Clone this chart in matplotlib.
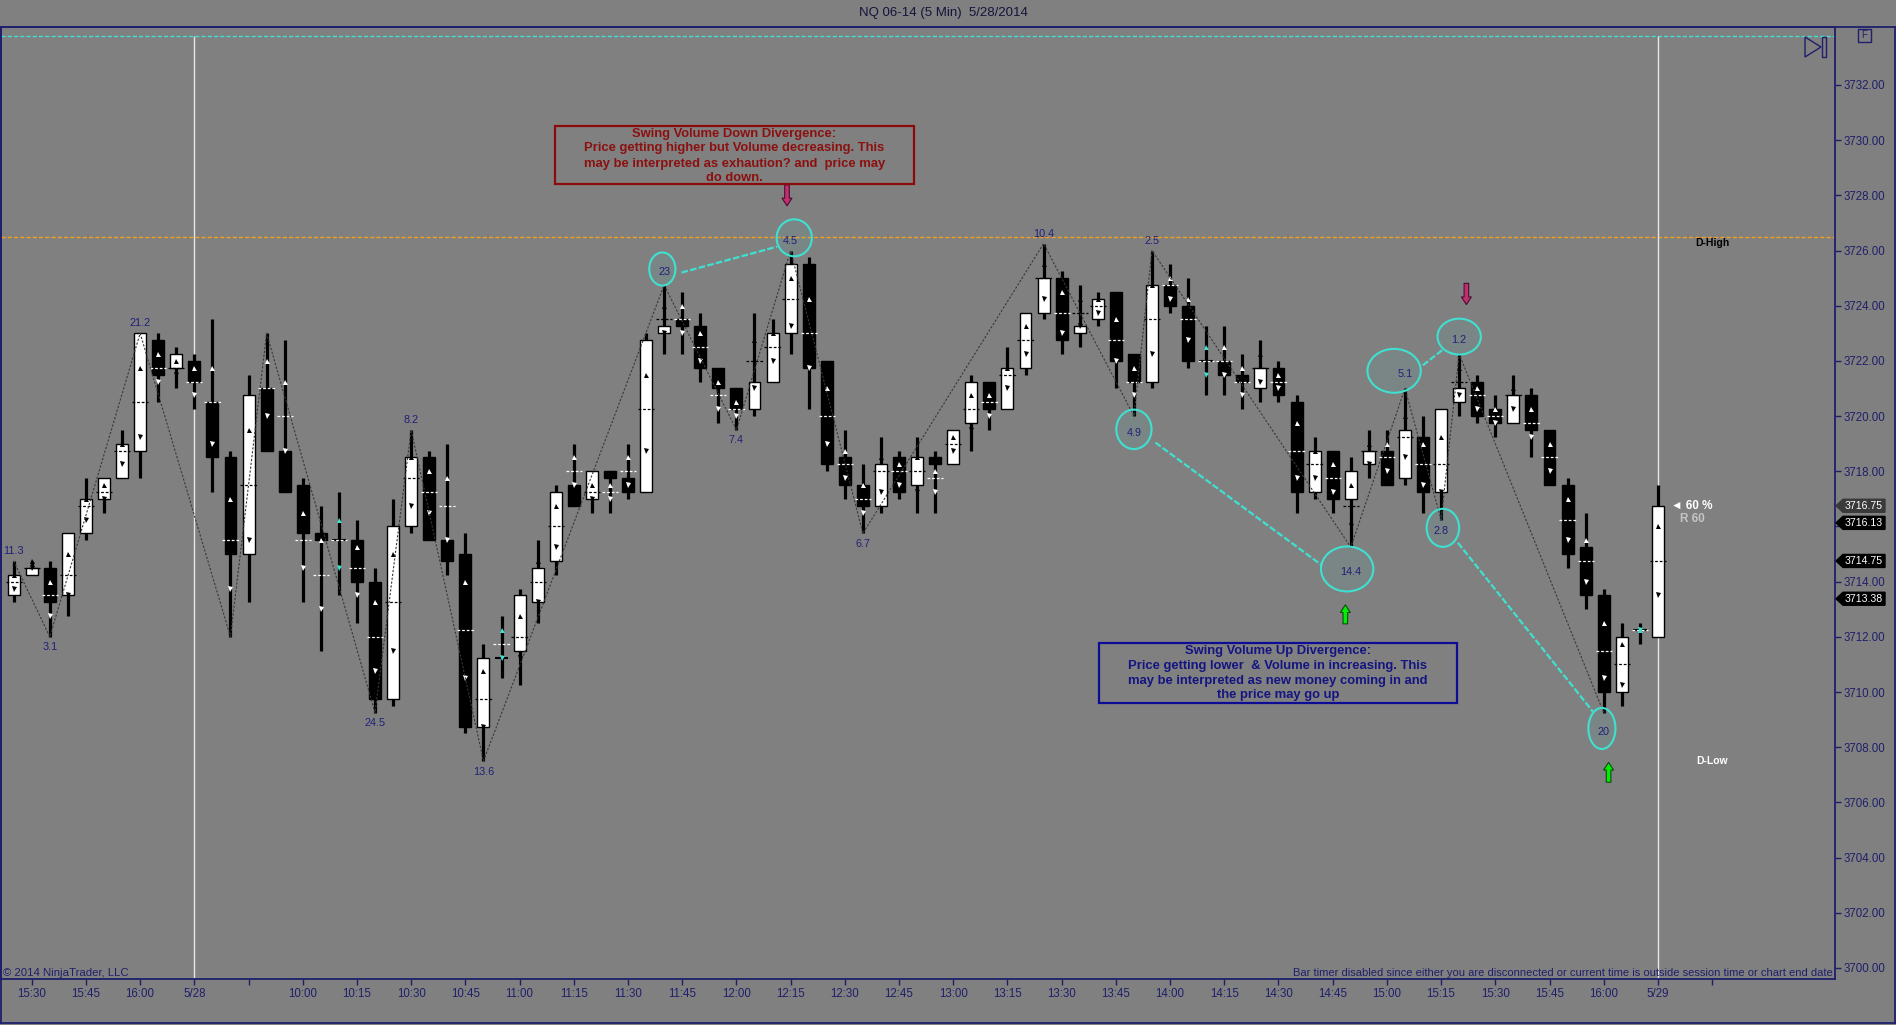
import numpy as np
import matplotlib.pyplot as plt
from matplotlib import font_manager as fm
from matplotlib.patches import Rectangle, Ellipse, Polygon
from matplotlib.lines import Line2D
import matplotlib.transforms as mtrans

names = {f.name for f in fm.fontManager.ttflist}
NARROW = 'Liberation Sans Narrow' if 'Liberation Sans Narrow' in names else 'Liberation Sans'
plt.rcParams['font.family'] = ['Liberation Sans', 'DejaVu Sans']

W, H = 1896, 1025
BG = '#808080'
NAVY = '#1f1f6b'
CYAN = '#40e0d0'

# ---- 5 min bars (index 0 = 15:25 of 5/27) ----
opens = [3713.5, 3714.25, 3714.5, 3713.5, 3715.75, 3717.0, 3717.75, 3718.75, 3722.75, 3721.75,
         3722.0, 3720.5, 3718.5, 3715.0, 3721.0, 3718.75, 3717.5, 3715.75, 3715.5, 3715.5,
         3714.0, 3709.75, 3716.0, 3718.5, 3715.5, 3715.0, 3708.75, 3711.25, 3711.5, 3713.25,
         3714.75, 3717.5, 3717.0, 3718.0, 3717.75, 3717.25, 3723.0, 3723.5, 3723.25, 3721.75,
         3721.0, 3720.25, 3721.25, 3723.0, 3725.5, 3722.0, 3718.5, 3717.5, 3716.75, 3718.5,
         3717.5, 3718.5, 3718.25, 3719.75, 3721.25, 3720.25, 3721.75, 3723.75, 3725.0, 3723.0,
         3723.5, 3724.5, 3722.25, 3721.25, 3724.75, 3724.0, 3722.0, 3722.0, 3721.5, 3721.0,
         3721.75, 3720.5, 3717.25, 3718.75, 3717.0, 3718.25, 3718.75, 3717.75, 3719.25, 3717.25,
         3720.5, 3721.25, 3720.25, 3719.75, 3720.75, 3719.5, 3717.5, 3715.25, 3713.5, 3710.0,
         3712.25, 3712.0]
highs = [3714.75, 3714.75, 3714.75, 3715.75, 3717.75, 3717.75, 3719.5, 3723.0, 3723.0, 3722.5,
         3722.25, 3723.5, 3718.75, 3721.5, 3723.0, 3722.75, 3717.75, 3716.75, 3717.25, 3716.25,
         3714.5, 3717.0, 3719.5, 3718.75, 3719.0, 3715.75, 3711.75, 3712.75, 3713.75, 3715.5,
         3717.5, 3719.0, 3718.0, 3718.0, 3719.0, 3723.0, 3724.75, 3724.5, 3723.75, 3721.75,
         3721.0, 3723.75, 3723.5, 3726.0, 3725.75, 3722.0, 3719.5, 3718.25, 3719.25, 3718.75,
         3719.25, 3718.75, 3719.5, 3721.5, 3721.25, 3722.5, 3723.75, 3726.25, 3725.25, 3724.75,
         3724.5, 3724.5, 3722.25, 3726.0, 3725.5, 3725.0, 3723.25, 3723.25, 3722.25, 3722.75,
         3722.0, 3720.75, 3719.25, 3718.75, 3718.5, 3719.5, 3719.5, 3721.0, 3720.0, 3720.25,
         3722.25, 3721.5, 3720.75, 3721.5, 3721.0, 3719.5, 3717.75, 3716.5, 3713.75, 3712.5,
         3712.5, 3717.5]
lows = [3713.25, 3714.25, 3712.0, 3712.75, 3715.5, 3716.5, 3717.75, 3717.75, 3720.5, 3721.0,
        3720.25, 3717.25, 3712.0, 3713.25, 3718.75, 3717.25, 3713.25, 3711.5, 3713.5, 3712.5,
        3709.25, 3709.5, 3715.75, 3715.5, 3714.25, 3708.5, 3707.5, 3710.5, 3710.25, 3712.5,
        3714.25, 3716.75, 3716.5, 3716.5, 3717.0, 3717.25, 3722.25, 3722.25, 3721.25, 3719.75,
        3719.5, 3720.0, 3721.25, 3722.25, 3720.25, 3718.0, 3717.0, 3715.75, 3716.5, 3717.0,
        3716.5, 3716.5, 3718.25, 3718.75, 3719.5, 3720.25, 3721.5, 3723.5, 3722.25, 3722.5,
        3723.25, 3721.0, 3720.0, 3721.0, 3723.75, 3721.75, 3720.75, 3720.75, 3720.25, 3720.5,
        3720.5, 3716.5, 3717.0, 3716.5, 3715.25, 3717.75, 3717.5, 3717.5, 3716.5, 3716.25,
        3720.0, 3719.75, 3719.25, 3719.75, 3718.5, 3717.5, 3714.5, 3713.0, 3709.25, 3709.5,
        3711.75, 3712.0]
closes = [3714.25, 3714.5, 3713.25, 3715.75, 3717.0, 3717.75, 3719.0, 3723.0, 3721.5, 3722.25,
          3721.25, 3718.5, 3715.0, 3720.75, 3718.75, 3717.25, 3715.75, 3715.5, 3715.5, 3714.0,
          3709.75, 3716.0, 3718.5, 3715.5, 3714.75, 3708.75, 3711.25, 3711.25, 3713.5, 3714.5,
          3717.25, 3716.75, 3718.0, 3717.75, 3717.25, 3722.75, 3723.25, 3723.25, 3721.75, 3721.0,
          3720.25, 3721.25, 3723.0, 3725.5, 3721.75, 3718.25, 3717.5, 3716.75, 3718.25, 3717.25,
          3718.5, 3718.25, 3719.5, 3721.25, 3720.25, 3721.75, 3723.75, 3725.0, 3722.75, 3723.25,
          3724.25, 3722.0, 3721.25, 3724.75, 3724.0, 3722.0, 3722.0, 3721.5, 3721.25, 3721.75,
          3720.75, 3717.25, 3718.75, 3717.0, 3718.0, 3718.75, 3717.5, 3719.5, 3717.25, 3720.25,
          3721.0, 3720.0, 3719.75, 3720.75, 3719.5, 3717.5, 3715.0, 3713.5, 3710.0, 3712.0,
          3712.25, 3716.75]

# per-bar volume markers: value area high / point of control / value area low
va_high = [3714.25, 3714.75, 3714.0, 3715.0, 3717.0, 3717.5, 3719.0, 3721.75, 3722.25, 3722.0,
           3721.75, 3721.75, 3717.0, 3719.5, 3722.0, 3721.25, 3716.5, 3715.5, 3716.25, 3715.25,
           3713.25, 3715.0, 3718.5, 3718.0, 3717.75, 3714.0, 3710.75, 3712.25, 3712.75, 3714.75,
           3716.75, 3718.5, 3717.5, 3717.5, 3718.5, 3721.5, 3724.0, 3724.0, 3723.0, 3721.25,
           3720.5, 3722.75, 3723.0, 3725.0, 3724.25, 3721.0, 3718.75, 3717.5, 3718.5, 3718.25,
           3718.5, 3718.0, 3719.25, 3720.75, 3720.75, 3721.75, 3723.25, 3725.5, 3724.5, 3724.25,
           3724.25, 3723.5, 3721.75, 3724.75, 3725.0, 3724.25, 3722.5, 3722.5, 3721.75, 3722.25,
           3721.5, 3719.75, 3718.75, 3718.25, 3717.5, 3719.0, 3719.0, 3720.0, 3719.0, 3719.25,
           3721.75, 3721.0, 3720.25, 3721.0, 3720.25, 3719.0, 3717.0, 3715.5, 3712.5, 3711.75,
           3712.25, 3716.0]
poc = [3714.0, 3714.5, 3713.5, 3714.25, 3716.75, 3717.25, 3718.75, 3720.5, 3721.75, 3721.75,
       3721.25, 3720.5, 3715.5, 3717.5, 3721.0, 3720.0, 3715.5, 3714.25, 3715.5, 3714.5,
       3712.0, 3713.25, 3717.75, 3717.25, 3716.75, 3712.25, 3709.75, 3711.75, 3712.0, 3714.0,
       3716.0, 3718.0, 3717.25, 3717.25, 3718.0, 3720.25, 3723.5, 3723.5, 3722.5, 3720.75,
       3720.25, 3722.0, 3722.5, 3724.25, 3723.0, 3720.0, 3718.25, 3717.0, 3718.0, 3718.0,
       3718.0, 3717.75, 3719.0, 3720.25, 3720.5, 3721.5, 3722.75, 3725.0, 3723.75, 3723.75,
       3724.0, 3722.75, 3721.25, 3723.5, 3724.75, 3723.5, 3722.0, 3722.0, 3721.25, 3721.75,
       3721.25, 3718.75, 3718.25, 3717.75, 3716.75, 3718.75, 3718.5, 3719.25, 3718.25, 3718.25,
       3721.25, 3720.75, 3720.0, 3720.75, 3719.75, 3718.5, 3716.25, 3714.75, 3711.5, 3711.0,
       3712.25, 3714.75]
va_low = [3713.75, 3714.5, 3712.75, 3713.5, 3716.25, 3717.0, 3718.25, 3719.25, 3721.25, 3721.5,
          3720.75, 3719.0, 3713.75, 3715.5, 3720.0, 3718.75, 3714.5, 3713.0, 3714.5, 3713.5,
          3710.75, 3711.5, 3716.75, 3716.5, 3715.5, 3710.5, 3708.75, 3711.25, 3711.25, 3713.25,
          3715.25, 3717.5, 3717.0, 3717.0, 3717.5, 3718.75, 3723.0, 3723.0, 3722.0, 3720.25,
          3720.0, 3721.0, 3722.0, 3723.25, 3721.75, 3719.0, 3717.75, 3716.5, 3717.25, 3717.5,
          3717.25, 3717.25, 3718.75, 3719.5, 3720.0, 3721.0, 3722.25, 3724.25, 3723.0, 3723.25,
          3723.75, 3722.0, 3720.75, 3722.25, 3724.25, 3722.75, 3721.5, 3721.5, 3720.75, 3721.25,
          3721.0, 3717.75, 3717.75, 3717.25, 3716.0, 3718.25, 3718.0, 3718.5, 3717.5, 3717.25,
          3720.75, 3720.25, 3719.75, 3720.25, 3719.25, 3718.0, 3715.5, 3714.0, 3710.5, 3710.25,
          3712.25, 3713.5]

# swing points (zigzag) and their swing volume labels
swing_idx = [0, 2, 7, 12, 14, 20, 22, 26, 36, 40, 43, 47, 57, 62, 63, 74, 77, 79, 80, 88]
swing_kind = ['H', 'L', 'H', 'L', 'H', 'L', 'H', 'L', 'H', 'L', 'H', 'L', 'H', 'L', 'H', 'L', 'H', 'L', 'H', 'L']
swing_label = ['11.3', '3.1', '21.2', '', '', '24.5', '8.2', '13.6', '23', '7.4',
               '4.5', '6.7', '10.4', '4.9', '2.5', '14.4', '5.1', '2.8', '1.2', '20']

tick_idx = [1, 4, 7, 10, 13] + list(range(16, 89, 3)) + [91, 94]
tick_lab = ['15:30', '15:45', '16:00', '5/28', ''] + \
           ['%d:%02d' % (10 + m // 60, m % 60) for m in range(0, 361, 15)] + ['5/29', '']

price_ticks = list(range(3700, 3733, 2))
tag_prices = [3716.75, 3716.13, 3714.75, 3713.38]
d_high = 3726.5
top_line = 3733.78

# ---- figure ----
fig = plt.figure(figsize=(W / 100, H / 100), dpi=100, facecolor=BG)
ax = fig.add_axes([1 / W, 1 - 979 / H, 1834 / W, 952 / H], facecolor=BG)
ax.set_xlim(-0.7, 100.8)
ax.set_ylim(3699.6, 3734.1)


def fpx(x, y):
    return (x / W, 1 - y / H)


for s in ax.spines.values():
    s.set_color(NAVY)
    s.set_linewidth(1.3)

# horizontal reference lines
ax.axhline(top_line, color=CYAN, lw=1, ls=(0, (3, 1.5)), zorder=1)
ax.axhline(d_high, color='#f0a020', lw=1, ls=(0, (3, 1.5)), zorder=1)
ax.vlines([10, 91], ax.get_ylim()[0], top_line, color='#e6e6e6', lw=1, zorder=1)

# candles
for i in range(len(opens)):
    o, h, l, c = opens[i], highs[i], lows[i], closes[i]
    ax.vlines(i, l, h, color='black', lw=2.3, zorder=3)
    if c > o:
        body, mc = 'white', 'black'
    elif c < o:
        body, mc = 'black', 'white'
    else:
        body, mc = None, CYAN
    if body:
        ax.add_patch(Rectangle((i - 0.33, min(o, c)), 0.66, abs(c - o), fc=body, ec='black', lw=1, zorder=4))
        pc = mc
    else:
        ax.hlines(o, i - 0.38, i + 0.38, color='black', lw=1.5, zorder=4)
        pc = 'white'
    ax.hlines(poc[i], i - 0.45, i + 0.45, color=pc, lw=0.9, ls=(0, (2.2, 1.5)), zorder=5)
    ax.plot(i, va_high[i], marker='^', ms=3.6, color=mc, mew=0, zorder=5)
    ax.plot(i, va_low[i], marker='v', ms=3.6, color=mc, mew=0, zorder=5)

# zigzag
zz_x = swing_idx
zz_y = [highs[k] if t == 'H' else lows[k] for k, t in zip(swing_idx, swing_kind)]
ax.plot(zz_x, zz_y, color='#383838', lw=0.8, ls=(0, (2, 1.5)), zorder=6)

# divergence ellipses (center index, center price, width bars, height price)
ellipses = {'23': (35.9, 3725.33, 1.45, 1.2), '4.5': (43.2, 3726.46, 1.95, 1.34),
            '4.9': (62.0, 3719.52, 1.95, 1.43), '14.4': (73.8, 3714.46, 2.9, 1.63),
            '5.1': (76.4, 3721.64, 2.95, 1.59), '1.2': (80.0, 3722.88, 2.4, 1.3),
            '2.8': (79.1, 3715.95, 1.8, 1.38), '20': (87.9, 3708.68, 1.5, 1.49)}
for key, (ex, ey, ew, eh) in ellipses.items():
    ax.add_patch(Ellipse((ex, ey), ew, eh, fc=(0.25, 0.85, 0.8, 0.08), ec=CYAN, lw=1.5, zorder=7))

links = [((36.96, 3725.2), (42.25, 3726.14)), ((63.19, 3719.04), (72.37, 3714.61)),
         ((77.99, 3721.84), (79.1, 3722.41)), ((79.93, 3715.41), (87.4, 3709.29))]
for (x0, y0), (x1, y1) in links:
    ax.plot([x0, x1], [y0, y1], color=CYAN, lw=1.6, ls=(0, (3, 1)), zorder=7)

for k, t, lab, py in zip(swing_idx, swing_kind, swing_label, zz_y):
    if not lab:
        continue
    if lab in ellipses:
        ax.text(k, ellipses[lab][1] - 0.12, lab, ha='center', va='center', fontsize=7.8,
                color='#20207a', zorder=8)
    else:
        dy = 7.2 if t == 'H' else -7.6
        ax.annotate(lab, (k, py), xytext=(0, dy), textcoords='offset points', ha='center',
                    va='center', fontsize=7.8, color='#20207a', zorder=8)

# arrows
for xa, y0, y1, fc, ec in [(73.7, 3712.47, 3713.16, '#00ee00', '#0b4d0b'),
                           (88.27, 3706.73, 3707.45, '#00ee00', '#0b4d0b'),
                           (42.8, 3728.38, 3727.62, '#c0306a', '#4a0c36'),
                           (80.4, 3724.81, 3724.04, '#c0306a', '#4a0c36')]:
    ax.annotate('', xy=(xa, y1), xytext=(xa, y0),
                arrowprops=dict(arrowstyle='simple,head_length=0.5,head_width=0.65,tail_width=0.3',
                                fc=fc, ec=ec, lw=0.8, shrinkA=0, shrinkB=0, mutation_scale=11),
                zorder=8)

# side texts
ax.text(94.0, 3726.28, 'D-High', ha='center', va='center', fontsize=7.5, fontweight='bold', color='black')
ax.text(94.0, 3707.5, 'D-Low', ha='center', va='center', fontsize=7.5, fontweight='bold', color='white')
ax.text(91.7, 3716.73, '\u25c4 60 %', ha='left', va='center', fontsize=8.5, fontweight='bold', color='white')
ax.text(92.2, 3716.28, 'R 60', ha='left', va='center', fontsize=8.5, fontweight='bold', color='#c4c4c4')

# axes ticks (3716.00 is hidden under the price tags)
ax.yaxis.tick_right()
ax.set_yticks(price_ticks)
ax.set_yticklabels(['' if v == 3716 else '%.2f' % v for v in price_ticks])
ax.set_xticks(tick_idx)
ax.set_xticklabels(tick_lab)
ax.tick_params(axis='both', colors=NAVY, labelcolor=NAVY, labelsize=7.5, length=4.2, width=1, pad=2)
for lbl in ax.get_xticklabels() + ax.get_yticklabels():
    lbl.set_family([NARROW, 'Liberation Sans'])
    lbl.set_fontsize(8.3)

# price tags on the right scale
bt = mtrans.blended_transform_factory(fig.transFigure, ax.transData)
hh = 6.5 / 27.6
for p, col in zip(tag_prices, ['#3a3a3a', 'black', 'black', 'black']):
    xs = [1836 / W, 1843 / W, 1885 / W, 1885 / W, 1843 / W]
    ys = [p, p + hh, p + hh, p - hh, p - hh]
    fig.patches.append(Polygon(list(zip(xs, ys)), closed=True, fc=col, ec=col, transform=bt, clip_on=False))
    fig.text(1864 / W, p, '%.2f' % p, transform=bt, ha='center', va='center', fontsize=7.6,
             color='white', family=[NARROW, 'Liberation Sans'])

# title and frame
fig.text(*fpx(943, 13), 'NQ 06-14 (5 Min)  5/28/2014', ha='center', va='center', fontsize=9.5, color='#14143c')
for (x0, y0), (x1, y1) in [((0, 27), (1896, 27)), ((1895, 27), (1895, 1023)),
                           ((0, 1023), (1896, 1023)), ((0.5, 27), (0.5, 1023))]:
    fig.add_artist(Line2D([x0 / W, x1 / W], [1 - y0 / H, 1 - y1 / H], color=NAVY, lw=1.3))

# icons in the top right corner
fig.patches.append(Polygon([fpx(1805, 37), fpx(1805, 57), fpx(1821, 47)], closed=True, fill=False,
                           ec=NAVY, lw=1, transform=fig.transFigure))
fig.patches.append(Rectangle(fpx(1822, 57), 4 / W, 20 / H, fill=False, ec=NAVY, lw=1, transform=fig.transFigure))
fig.patches.append(Rectangle(fpx(1858, 42), 13 / W, 13 / H, fill=False, ec=NAVY, lw=1, transform=fig.transFigure))
fig.text(*fpx(1864.5, 35.5), 'F', ha='center', va='center', fontsize=7, color=NAVY)

# bottom notes
fig.text(*fpx(3, 973), '\u00a9 2014 NinjaTrader, LLC', ha='left', va='center', fontsize=8.2,
         color=NAVY, family=[NARROW, 'Liberation Sans'])
fig.text(*fpx(1833, 973), 'Bar timer disabled since either you are disconnected or current time is outside '
         'session time or chart end date', ha='right', va='center', fontsize=8.0, color=NAVY,
         family=[NARROW, 'Liberation Sans'])

# annotation boxes
fig.patches.append(Rectangle(fpx(555, 184), 359 / W, 58 / H, fill=False, ec='#8c0a0a', lw=1.6,
                             transform=fig.transFigure))
red_lines = ['Swing Volume Down Divergence:', 'Price getting higher but Volume decreasing. This',
             'may be interpreted as exhaution? and  price may', 'do down.']
for n, s in enumerate(red_lines):
    fig.text(*fpx(734.5, 133.5 + 15 * n), s, ha='center', va='center', fontsize=9.4,
             fontweight='bold', color='#8c1010')

fig.patches.append(Rectangle(fpx(1099, 703), 358 / W, 60 / H, fill=False, ec='#0c0c96', lw=1.6,
                             transform=fig.transFigure))
blue_lines = ['Swing Volume Up Divergence:', 'Price getting lower  & Volume in increasing. This',
              'may be interpreted as new money coming in and', 'the price may go up']
for n, s in enumerate(blue_lines):
    fig.text(*fpx(1278, 651 + 14.8 * n), s, ha='center', va='center', fontsize=9.4,
             fontweight='bold', color='#141482')

fig.savefig('out.png', dpi=100, facecolor=BG)
